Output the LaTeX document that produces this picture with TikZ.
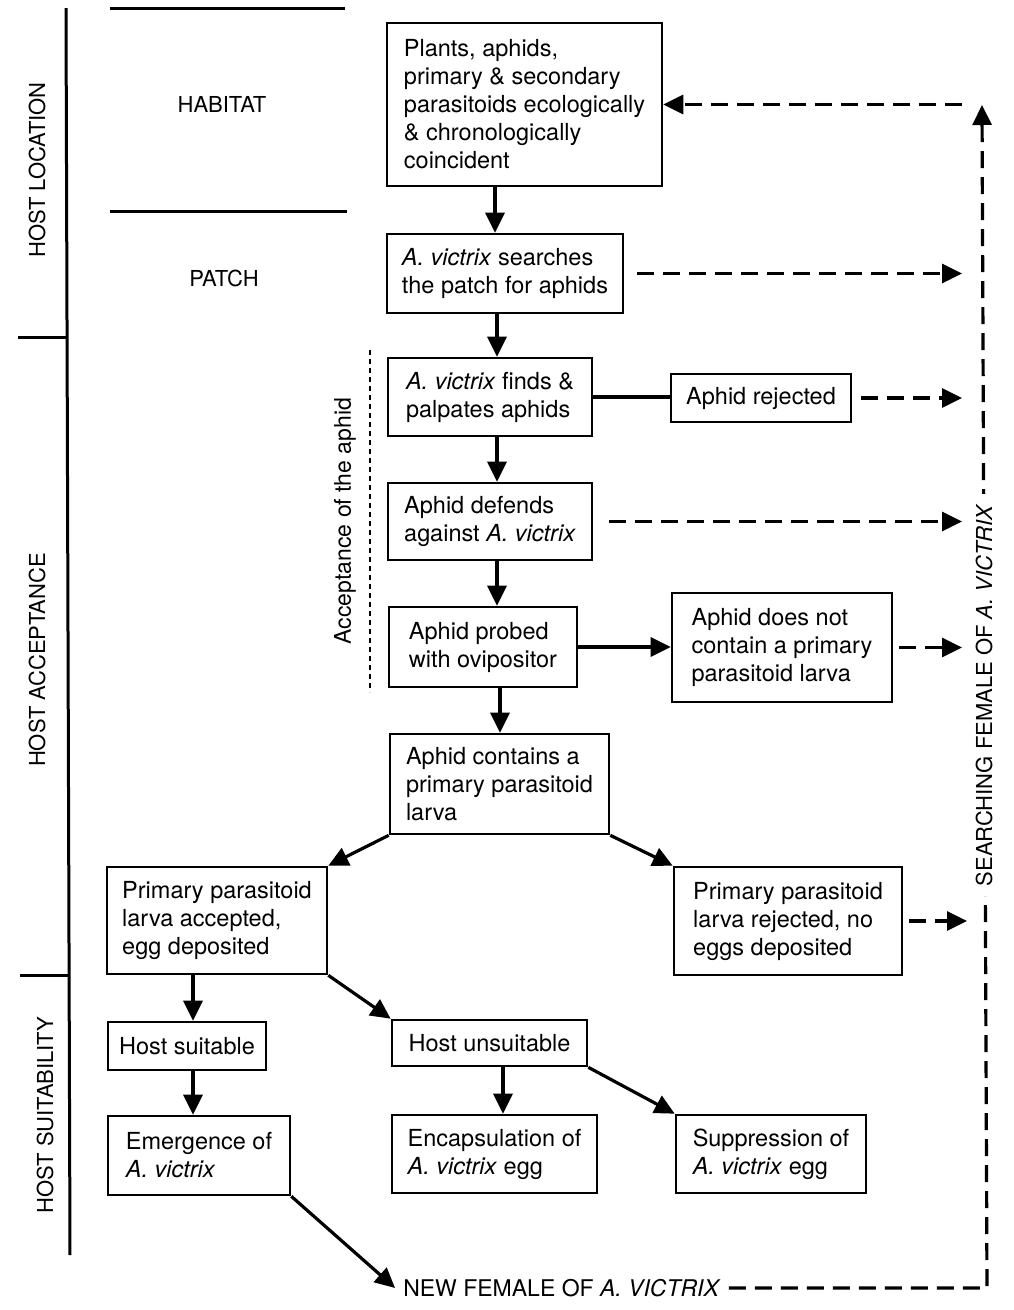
\documentclass[tikz,border=0pt]{standalone}
\usepackage{fontspec}
\setmainfont{TeX Gyre Heros}
\usetikzlibrary{arrows.meta}
\begin{document}
\begin{tikzpicture}[x=1pt,y=-1pt,
 box/.style={draw, line width=2.6pt, inner sep=0pt, align=left, font=\fontsize{23.5}{28}\selectfont},
 lbl/.style={font=\fontsize{22}{26}\selectfont, inner sep=0pt},
 arr/.style={line width=3.2pt, -{Triangle[length=20pt,width=19pt]}},
 darr/.style={line width=3.2pt, dash pattern=on 17pt off 9pt, -{Triangle[length=20pt,width=19pt]}},
 rule/.style={line width=3pt},
 thin dash/.style={line width=1.5pt, dash pattern=on 5pt off 4pt}]
\useasboundingbox (0,0) rectangle (1014,1310);

% left section structure
\draw[rule] (110,8) -- (345,8);
\draw[rule] (110,211) -- (347,211);
\draw[rule] (66,8) -- (70,1255);
\draw[rule] (18,337) -- (67,337);
\draw[rule] (20,975) -- (69,975);
\node[lbl] (habitat) at (222,104) {HABITAT};
\node[lbl] (patch) at (224,278) {PATCH};
\node[lbl, rotate=90] (hloc) at (37,170) {HOST LOCATION};
\node[lbl, rotate=90] (hacc) at (37,660) {HOST ACCEPTANCE};
\node[lbl, rotate=90] (hsuit) at (45,1115) {HOST SUITABILITY};

% acceptance of the aphid
\draw[thin dash] (370,350) -- (370,692);
\node[font=\fontsize{23}{26}\selectfont, inner sep=0pt, rotate=90] (accept) at (345,521) {Acceptance of the aphid};

% boxes
\node[box, minimum width=275pt, minimum height=163pt] (plants) at (524.5,104.5)
 {Plants, aphids,\\primary \& secondary\\parasitoids ecologically\\\& chronologically\\coincident};
\node[box, minimum width=236pt, minimum height=79pt] (search) at (505,273.5)
 {\textit{A. victrix} searches\\the patch for aphids};
\node[box, minimum width=204pt, minimum height=78pt] (finds) at (490,397)
 {\textit{A. victrix} finds \&\\palpates aphids};
\node[box, minimum width=180pt, minimum height=48pt] (rej) at (761,398)
 {Aphid rejected};
\node[box, minimum width=204pt, minimum height=77pt] (defends) at (490,521.5)
 {Aphid defends\\against \textit{A. victrix}};
\node[box, minimum width=188pt, minimum height=80pt] (probed) at (483,647)
 {Aphid probed\\with ovipositor};
\node[box, minimum width=220pt, minimum height=109pt] (notcont) at (782,647.5)
 {Aphid does not\\contain a primary\\parasitoid larva};
\node[box, minimum width=219pt, minimum height=100pt] (contains) at (499.5,784)
 {Aphid contains a\\primary parasitoid\\larva};
\node[box, minimum width=220pt, minimum height=107pt] (accepted) at (217,920.5)
 {Primary parasitoid\\larva accepted,\\egg deposited};
\node[box, minimum width=228pt, minimum height=108pt] (rejl) at (788,921)
 {Primary parasitoid\\larva rejected, no\\eggs deposited};
\node[box, minimum width=158pt, minimum height=48pt] (suit) at (187,1046)
 {Host suitable};
\node[box, minimum width=195pt, minimum height=46pt] (unsuit) at (489.5,1043)
 {Host unsuitable};
\node[box, minimum width=182pt, minimum height=79pt] (emerg) at (199,1155.5)
 {Emergence of\\\textit{A. victrix}};
\node[box, minimum width=205pt, minimum height=78pt] (encap) at (494.5,1154)
 {Encapsulation of\\\textit{A. victrix} egg};
\node[box, minimum width=190pt, minimum height=78pt] (suppr) at (771,1154)
 {Suppression of\\\textit{A. victrix} egg};
\node[lbl, font=\fontsize{23}{26}\selectfont, inner xsep=8pt, inner ysep=2pt] (newf) at (562,1288)
 {NEW FEMALE OF \textit{A. VICTRIX}};

% column coordinates
\coordinate (x495) at (495,0);
\coordinate (x497) at (497,0);
\coordinate (x500) at (500,0);
\coordinate (x193) at (193,0);
\coordinate (x503) at (503,0);
\coordinate (rx) at (962,0);
\coordinate (rx2) at (967,0);
\coordinate (corner) at (987,1288);
\coordinate (top) at (982,105);

% solid connectors
\draw[arr] (plants.south -| x495) -- (search.north -| x495);
\draw[arr] (search.south -| x497) -- (finds.north -| x497);
\draw[arr] (finds.south -| x497) -- (defends.north -| x497);
\draw[arr] (defends.south -| x497) -- (probed.north -| x497);
\draw[arr] (probed.south -| x500) -- (contains.north -| x500);
\draw[line width=3.2pt] (finds.east) -- (finds.east -| rej.west);
\draw[arr] (probed.east) -- (probed.east -| notcont.west);
\draw[arr] (contains.south west) -- (accepted.north east);
\draw[arr] (contains.south east) -- (rejl.north west);
\draw[arr] (accepted.south -| x193) -- (suit.north -| x193);
\draw[arr] (accepted.south east) -- (unsuit.north west);
\draw[arr] (suit.south -| x193) -- (emerg.north -| x193);
\draw[arr] (unsuit.south -| x503) -- (encap.north -| x503);
\draw[arr] (unsuit.south east) -- (suppr.north west);
\draw[arr] (emerg.south east) -- (newf.west);

% dashed connectors
\draw[darr] ([xshift=13pt]search.east) -- (search.east -| rx);
\draw[darr] ([xshift=9pt]rej.east) -- (rej.east -| rx);
\draw[darr] ([xshift=16pt]defends.east) -- (defends.east -| rx);
\draw[darr] ([xshift=6pt]notcont.east) -- (notcont.east -| rx);
\draw[darr] ([xshift=6pt]rejl.east) -- (rejl.east -| rx2);
\draw[darr] (plants.east -| rx) -- (plants.east);
\draw[darr] (newf.east) -- (corner) -- (top);
\node[lbl, fill=white, inner xsep=10pt, inner ysep=3pt, rotate=90] (searching) at (984,695)
 {SEARCHING FEMALE OF \textit{A. VICTRIX}};
\end{tikzpicture}
\end{document}
